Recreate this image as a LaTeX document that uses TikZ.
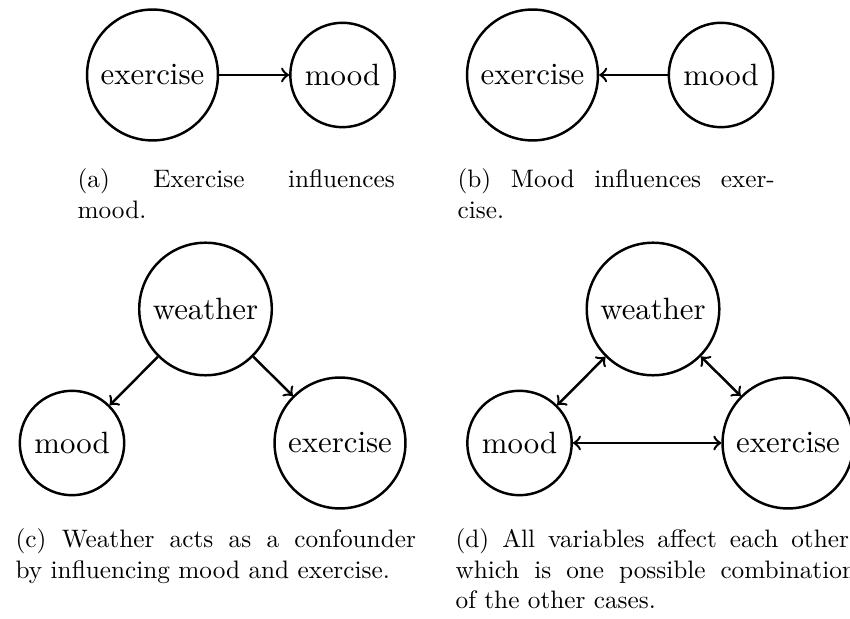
\documentclass[tikz,border=0pt]{standalone}
\newcommand\jline[2]{\makebox[#1][s]{#2}}
\newcommand\capbox[1]{\scalebox{0.82}{\begin{tabular}{@{}l@{}}#1\end{tabular}}}
\begin{document}
\begin{tikzpicture}[x=0.32468pt,y=-0.32468pt,
  var/.style={circle,draw,thick},
  link/.style={->,thick},
  both/.style={<->,thick},
  capt/.style={anchor=north west,inner sep=0pt}]
\path[use as bounding box,clip] (0,0) rectangle (850,619);
% (a)
\node[var] (aex) at (152.5,75) {exercise};
\node[var] (amo) at (342.5,75) {mood};
\draw[link] (aex) -- (amo);
\node[capt] (capa) at (77,166) {\capbox{\jline{125.6pt}{(a) Exercise influences}\\mood.}};
% (b)
\node[var] (bex) at (532.5,75) {exercise};
\node[var] (bmo) at (721,75) {mood};
\draw[link] (bmo) -- (bex);
\node[capt] (capb) at (457,166) {\capbox{\jline{125.6pt}{(b) Mood influences exer-}\\cise.}};
% (c)
\node[var] (cwe) at (205.5,309) {weather};
\node[var] (cmo) at (72,443) {mood};
\node[var] (cex) at (340,443) {exercise};
\draw[link] (cwe) -- (cmo);
\draw[link] (cwe) -- (cex);
\node[capt] (capc) at (15,526) {\capbox{\jline{158.5pt}{(c) Weather acts as a confounder}\\by influencing mood and exercise.}};
% (d)
\node[var] (dwe) at (653,309) {weather};
\node[var] (dmo) at (519.5,443) {mood};
\node[var] (dex) at (788,443) {exercise};
\draw[both] (dmo) -- (dwe);
\draw[both] (dwe) -- (dex);
\draw[both] (dmo) -- (dex);
\node[capt] (capd) at (455,526) {\capbox{\jline{158.5pt}{(d) All variables affect each other,}\\\jline{158.5pt}{which is one possible combination}\\of the other cases.}};
\end{tikzpicture}
\end{document}
